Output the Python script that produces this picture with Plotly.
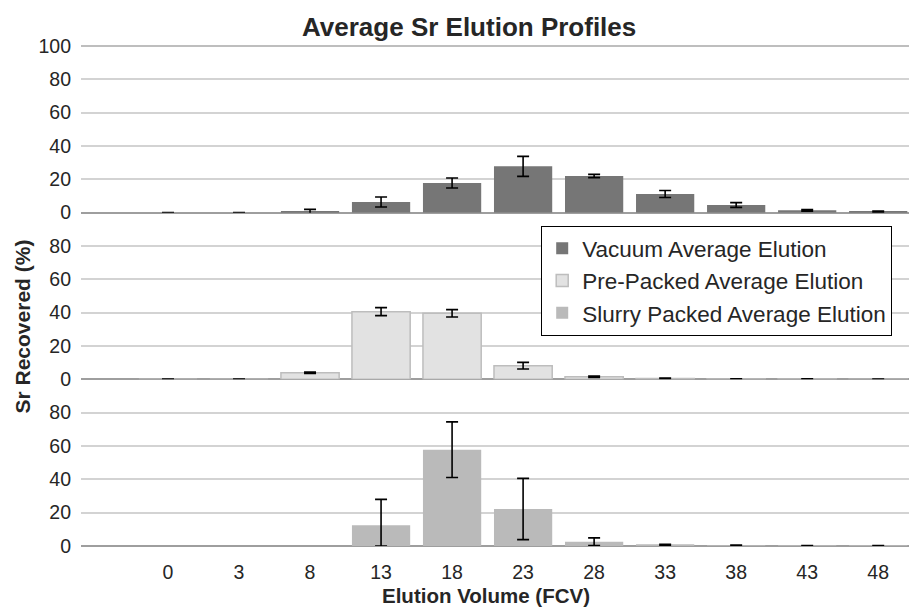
import plotly.graph_objects as go
from plotly.subplots import make_subplots

categories = ["0", "3", "8", "13", "18", "23", "28", "33", "38", "43", "48"]

vacuum = [0.0, 0.0, 0.6, 6.4, 17.8, 27.8, 22.0, 11.2, 4.6, 1.4, 0.6]
vacuum_err = [0.1, 0.1, 1.4, 3.0, 3.0, 6.0, 1.0, 2.1, 1.4, 0.5, 0.3]

prepacked = [0.0, 0.0, 4.0, 40.6, 39.6, 8.2, 1.6, 0.5, 0.2, 0.2, 0.1]
prepacked_err = [0.1, 0.1, 0.4, 2.4, 2.2, 2.0, 0.4, 0.2, 0.1, 0.1, 0.1]

slurry = [None, None, None, 12.5, 57.8, 22.2, 2.6, 0.7, 0.3, 0.2, 0.3]
slurry_err_plus = [None, None, None, 15.5, 16.7, 18.4, 2.3, 0.3, 0.2, 0.1, 0.0]
slurry_err_minus = [None, None, None, 12.5, 16.7, 18.4, 2.3, 0.3, 0.2, 0.1, 0.0]

names = ["Vacuum Average Elution", "Pre-Packed Average Elution", "Slurry Packed Average Elution"]
colors = ["#767676", "#e2e2e2", "#bababa"]

FONT = "Liberation Sans, Arial, sans-serif"
TXT = "#262626"

# page body has an 8px offset; figure is sized so the plot area lands at
# x 81..913, y 46..546 of the 917x607 window
OFF = 8
W, H = 917 - OFF, 607 - OFF
PL, PR, PT, PB = 81, 913, 46, 546
PW, PH = PR - PL, PB - PT

x = list(range(len(categories)))

fig = make_subplots(rows=3, cols=1, shared_xaxes=True, vertical_spacing=0)

err_style = dict(type="data", color="black", thickness=1.6, width=6)

fig.add_trace(go.Bar(x=x, y=vacuum, name=names[0], width=0.82, legendgroup="a",
                     marker=dict(color=colors[0], line=dict(width=0)),
                     error_y=dict(array=vacuum_err, **err_style)), row=1, col=1)
fig.add_trace(go.Bar(x=x, y=prepacked, name=names[1], width=0.82, legendgroup="b",
                     marker=dict(color=colors[1], line=dict(width=1.5, color="#bdbdbd")),
                     error_y=dict(array=prepacked_err, **err_style)), row=2, col=1)
fig.add_trace(go.Bar(x=x, y=slurry, name=names[2], width=0.82, legendgroup="c",
                     marker=dict(color=colors[2], line=dict(width=0)),
                     error_y=dict(array=slurry_err_plus, arrayminus=slurry_err_minus,
                                  symmetric=False, **err_style)), row=3, col=1)

yax_common = dict(range=[0, 100], showgrid=True, gridcolor="#d3d3d3", gridwidth=1.5,
                  zeroline=True, zerolinecolor="#9e9e9e", zerolinewidth=1.5,
                  showline=False, ticks="", ticklabelstandoff=9,
                  tickfont=dict(family=FONT, size=19.5, color=TXT), fixedrange=True)

fig.update_yaxes(tickvals=[0, 20, 40, 60, 80, 100], **yax_common, row=1, col=1)
fig.update_yaxes(tickvals=[0, 20, 40, 60, 80], **yax_common, row=2, col=1)
fig.update_yaxes(tickvals=[0, 20, 40, 60, 80], **yax_common, row=3, col=1)

fig.update_xaxes(range=[-1.225, 10.49], showgrid=False, zeroline=False, showline=False,
                 ticks="", tickvals=x, ticktext=categories, ticklabelstandoff=12,
                 tickfont=dict(family=FONT, size=19.5, color=TXT))
fig.update_xaxes(showticklabels=False, row=1, col=1)
fig.update_xaxes(showticklabels=False, row=2, col=1)

fig.add_shape(type="line", xref="paper", yref="paper", x0=0, x1=1, y0=1, y1=1,
              line=dict(color="#a8a8a8", width=1.5))

fig.update_layout(
    width=W, height=H,
    margin=dict(l=PL - OFF, r=917 - PR, t=PT - OFF, b=607 - PB),
    paper_bgcolor="white", plot_bgcolor="white",
    font=dict(family=FONT, color=TXT),
    showlegend=True,
    legend=dict(x=(541 - PL) / PW, y=(PB - 226) / PH, xanchor="left", yanchor="top",
                bgcolor="white", bordercolor="black", borderwidth=1.2,
                font=dict(family=FONT, size=22.5, color=TXT),
                traceorder="normal", tracegroupgap=3, itemwidth=30),
    annotations=[
        dict(text="<b>Average Sr Elution Profiles</b>", xref="paper", yref="paper",
             x=(469 - PL) / PW, y=1 + (PT - 27) / PH, xanchor="center", yanchor="middle",
             showarrow=False, font=dict(family=FONT, size=26, color=TXT)),
        dict(text="<b>Elution Volume (FCV)</b>", xref="paper", yref="paper",
             x=(486 - PL) / PW, y=-(595 - PB) / PH, xanchor="center", yanchor="middle",
             showarrow=False, font=dict(family=FONT, size=20.5, color=TXT)),
        dict(text="<b>Sr Recovered (%)</b>", xref="paper", yref="paper",
             x=(22 - PL) / PW, y=(PB - 326.5) / PH, xanchor="center", yanchor="middle",
             textangle=-90, showarrow=False, font=dict(family=FONT, size=21, color=TXT)),
    ],
)

fig.write_html("out.html")
